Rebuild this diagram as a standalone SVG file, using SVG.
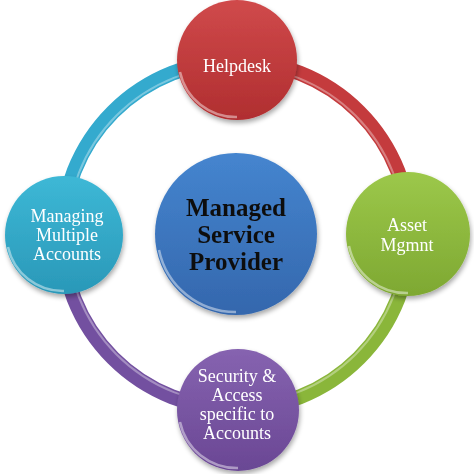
<svg xmlns="http://www.w3.org/2000/svg" width="474" height="474" viewBox="0 0 474 474">
<defs>
<filter id="sh" x="-20%" y="-20%" width="140%" height="140%">
<feGaussianBlur in="SourceAlpha" stdDeviation="2.5"/>
<feOffset dx="1" dy="3"/>
<feComponentTransfer><feFuncA type="linear" slope="0.35"/></feComponentTransfer>
<feMerge><feMergeNode/><feMergeNode in="SourceGraphic"/></feMerge>
</filter>
<linearGradient id="gRed" x1="0" y1="0" x2="0" y2="1"><stop offset="0" stop-color="#d04a4b"/><stop offset="1" stop-color="#b02e30"/></linearGradient>
<linearGradient id="gGreen" x1="0" y1="0" x2="0" y2="1"><stop offset="0" stop-color="#9cc84a"/><stop offset="1" stop-color="#7ea832"/></linearGradient>
<linearGradient id="gPurple" x1="0" y1="0" x2="0" y2="1"><stop offset="0" stop-color="#8663b0"/><stop offset="1" stop-color="#6a4794"/></linearGradient>
<linearGradient id="gTeal" x1="0" y1="0" x2="0" y2="1"><stop offset="0" stop-color="#3db8d6"/><stop offset="1" stop-color="#2a98b8"/></linearGradient>
<linearGradient id="gBlue" x1="0" y1="0" x2="0" y2="1"><stop offset="0" stop-color="#4585cf"/><stop offset="1" stop-color="#3467ad"/></linearGradient>
</defs>
<style>
.ring{fill:none;stroke-width:15;stroke-linecap:butt}
.ringhl{fill:none;stroke:#fff;stroke-opacity:0.35;stroke-width:2}
.rimc{fill:none;stroke:#fff;stroke-opacity:0.45;stroke-width:2.5}
.lbl{font-family:"Liberation Serif","DejaVu Serif",serif;font-size:18px;fill:#fff;text-anchor:middle}
.ctr{font-family:"Liberation Serif","DejaVu Serif",serif;font-size:25px;font-weight:bold;fill:#111;text-anchor:middle}
</style>
<g id="connectors">
<path class="ring" stroke="#c43b3d" d="M236 61 A174 174 0 0 1 410 235"/>
<path class="ring" stroke="#8ab63a" d="M410 235 A174 174 0 0 1 236 409"/>
<path class="ring" stroke="#7350a0" d="M236 409 A174 174 0 0 1 62 235"/>
<path class="ring" stroke="#34aace" d="M62 235 A174 174 0 0 1 236 61"/>
<path class="ringhl" d="M236 66 A169 169 0 0 1 405 235 A169 169 0 0 1 236 404 A169 169 0 0 1 67 235 A169 169 0 0 1 236 66"/>
</g>
<g id="center" filter="url(#sh)">
<circle cx="236" cy="234" r="81" fill="url(#gBlue)"/>
<path class="rimc" d="M159 250 A78 78 0 0 0 236 312"/>
<text class="ctr" x="236" y="216">Managed</text>
<text class="ctr" x="236" y="243">Service</text>
<text class="ctr" x="236" y="270">Provider</text>
</g>
<g id="helpdesk" filter="url(#sh)">
<circle cx="237" cy="60" r="60" fill="url(#gRed)"/>
<path class="rimc" d="M180 72 A57 57 0 0 0 237 117"/>
<text class="lbl" x="237" y="72">Helpdesk</text>
</g>
<g id="asset" filter="url(#sh)">
<circle cx="408" cy="234" r="62" fill="url(#gGreen)"/>
<path class="rimc" d="M349 246 A59 59 0 0 0 408 293"/>
<text class="lbl" x="407" y="231">Asset</text>
<text class="lbl" x="407" y="251">Mgmnt</text>
</g>
<g id="security" filter="url(#sh)">
<circle cx="238" cy="410" r="61" fill="url(#gPurple)"/>
<path class="rimc" d="M180 422 A58 58 0 0 0 238 468"/>
<text class="lbl" x="237" y="382">Security &amp;</text>
<text class="lbl" x="237" y="401">Access</text>
<text class="lbl" x="237" y="420">specific to</text>
<text class="lbl" x="237" y="439">Accounts</text>
</g>
<g id="multiple" filter="url(#sh)">
<circle cx="64" cy="235" r="59" fill="url(#gTeal)"/>
<path class="rimc" d="M8 247 A56 56 0 0 0 64 291"/>
<text class="lbl" x="67" y="222">Managing</text>
<text class="lbl" x="67" y="241">Multiple</text>
<text class="lbl" x="67" y="260">Accounts</text>
</g>
</svg>
